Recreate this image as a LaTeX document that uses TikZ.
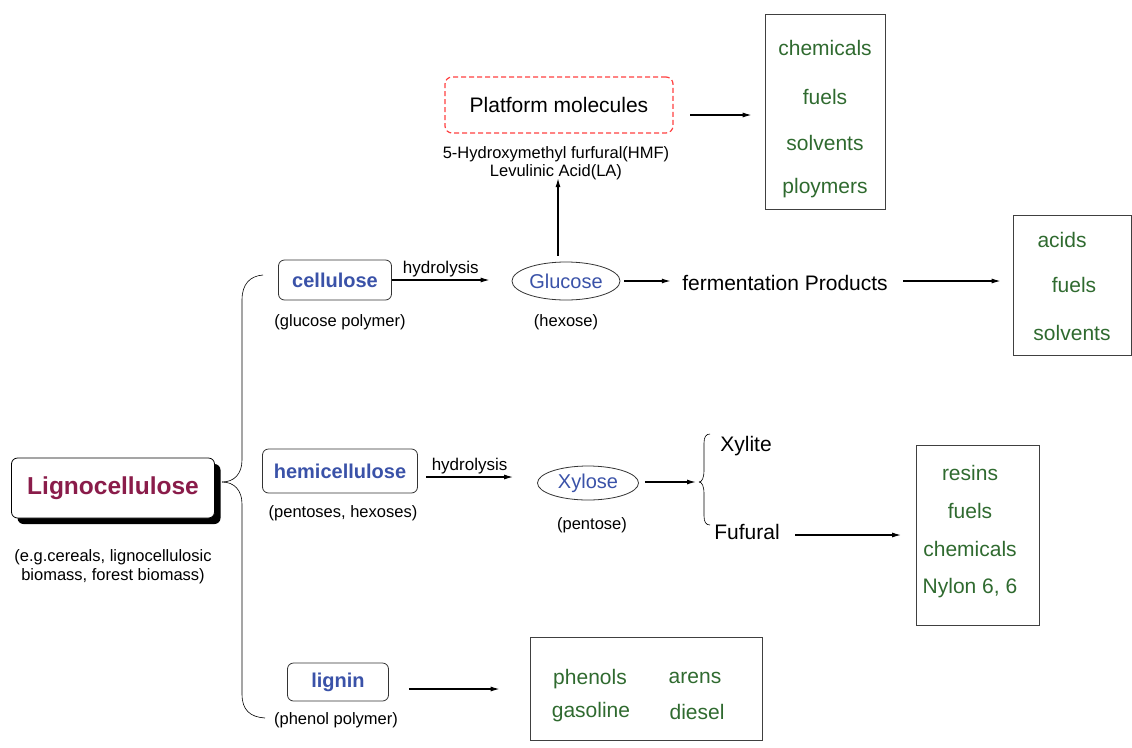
\documentclass[tikz,border=0pt]{standalone}
\usepackage{fontspec}
\setmainfont{Liberation Sans}
\usetikzlibrary{shadows,shapes.geometric,arrows.meta}
\definecolor{ligred}{HTML}{8A1C4A}
\definecolor{partblue}{HTML}{3A52A8}
\definecolor{prodgreen}{HTML}{2F6A2F}
\newcommand{\fs}[1]{\fontsize{#1}{#1}\selectfont}
\begin{document}
\begin{tikzpicture}[x=1pt, y=-1pt, >={Latex[length=9pt,width=5pt]},
    part/.style={draw=black!80, rounded corners=6pt, thick, text=partblue, font=\fs{20}\bfseries, inner sep=0pt},
    sugar/.style={draw=black!80, ellipse, thick, text=partblue, font=\fs{20}, inner sep=0pt},
    note/.style={font=\fs{16.5}, align=center},
    prod/.style={text=prodgreen, font=\fs{21}},
    plain/.style={font=\fs{21}},
    outbox/.style={draw=black!75, thick},
    flow/.style={->, line width=1.2pt}]
    \useasboundingbox (0,0) rectangle (1132,747);
    % Source
    \node[draw, thick, rounded corners=6pt, fill=white, minimum width=203pt, minimum height=60pt,
        text=ligred, font=\fs{24.5}\bfseries,
        drop shadow={shadow xshift=6pt, shadow yshift=-6pt, opacity=1, fill=black}] (lig) at (113,488) {Lignocellulose};
    \node[note, text depth=0pt] (ligsub) at (113,565) {(e.g.cereals, lignocellulosic\\[3pt]biomass, forest biomass)};
    % Brace
    \coordinate (tip) at (222,482);
    \draw[semithick] (tip) .. controls (234,482) and (242,474) .. (242,460) -- (242,300)
        .. controls (242,284) and (250,276) .. (263,275);
    \draw[semithick] (tip) .. controls (234,482) and (242,490) .. (242,504) -- (242,694)
        .. controls (242,710) and (250,717) .. (265,718);
    % Cellulose branch
    \node[part, minimum width=113pt, minimum height=40pt] (cel) at (335,280) {cellulose};
    \node[note] (celsub) at (340,322) {(glucose polymer)};
    \node[sugar, minimum width=108pt, minimum height=38pt] (glu) at (566,281) {Glucose};
    \node[note] (glusub) at (566,322) {(hexose)};
    \draw[flow] (cel.east) -- node[above, font=\fs{17}, yshift=-1pt] {hydrolysis} ([xshift=-22pt]cel.east -| glu.west);
    \node[draw=red!75, dashed, line width=1.2pt, dash pattern=on 5pt off 3pt, rounded corners=7pt,
        minimum width=228pt, minimum height=56pt, font=\fs{21}] (plat) at (559,105) {Platform molecules};
    \node[note, inner sep=1pt] (platsub) at (556,163) {5-Hydroxymethyl furfural(HMF)\\[2pt]Levulinic Acid(LA)};
    \coordinate (gup) at ([xshift=-8pt, yshift=6pt]glu.north);
    \draw[flow] (gup) -- ([yshift=3pt]gup |- platsub.south);
    \node[outbox, minimum width=120pt, minimum height=195pt] (chem1) at (825,112) {};
    \foreach \y/\t in {48/chemicals, 97/fuels, 143/solvents, 188/ploymers}
        \node[prod] at (825,\y) {\t};
    \coordinate (pout) at (690,115);
    \draw[flow] (pout) -- ([xshift=-13pt]pout -| chem1.west);
    \node[plain] (ferm) at (785,283) {fermentation Products};
    \draw[flow] ([xshift=4pt]glu.east) -- ([xshift=-8pt]glu.east -| ferm.west);
    \node[outbox, minimum width=118pt, minimum height=140pt] (acid) at (1072,285) {};
    \node[prod] at (1062,240) {acids};
    \node[prod] at (1074,285) {fuels};
    \node[prod] at (1072,333) {solvents};
    \draw[flow] ([xshift=12pt]ferm.east |- glu.east) -- ([xshift=-12pt]glu.east -| acid.west);
    % Hemicellulose branch
    \node[part, minimum width=155pt, minimum height=44pt] (hemi) at (340,471) {hemicellulose};
    \node[note] (hemisub) at (343,513) {(pentoses, hexoses)};
    \node[sugar, minimum width=101pt, minimum height=34pt] (xyl) at (588,483) {Xylose};
    \node[note] (xylsub) at (592,525) {(pentose)};
    \coordinate (hstart) at (426,477);
    \draw[flow] (hstart) -- node[above, font=\fs{17}, yshift=-1pt] {hydrolysis} ([xshift=-24pt]hstart -| xyl.west);
    \coordinate (btip) at (699,482);
    \draw[flow] ([xshift=6pt]xyl.east |- btip) -- ([xshift=-3pt]btip);
    \draw[semithick] (btip) .. controls (702,482) and (704,478) .. (704,470) -- (704,443)
        .. controls (704,437) and (706,434) .. (710,434);
    \draw[semithick] (btip) .. controls (702,482) and (704,486) .. (704,494) -- (704,516)
        .. controls (704,522) and (706,525) .. (710,525);
    \node[plain] (xylite) at (746,446) {Xylite};
    \node[plain] (fuf) at (747,532) {Fufural};
    \node[outbox, minimum width=123pt, minimum height=180pt] (resin) at (978,535) {};
    \foreach \y/\t in {473/resins, 511/fuels, 549/chemicals, 588/{Nylon 6, 6}}
        \node[prod] at (970,\y) {\t};
    \draw[flow] ([xshift=12pt]fuf.east |- resin.west) -- ([xshift=-15pt]resin.west);
    % Lignin branch
    \node[part, minimum width=101pt, minimum height=38pt] (lig2) at (338,682) {lignin};
    \node[note] (lig2sub) at (336,720) {(phenol polymer)};
    \node[outbox, minimum width=232pt, minimum height=103pt] (phen) at (646,689) {};
    \node[prod] at (590,679) {phenols};
    \node[prod] at (695,678) {arens};
    \node[prod] at (591,712) {gasoline};
    \node[prod] at (697,712) {diesel};
    \draw[flow] ([xshift=20pt]lig2.east |- phen.west) -- ([xshift=-30pt]phen.west);
\end{tikzpicture}
\end{document}
